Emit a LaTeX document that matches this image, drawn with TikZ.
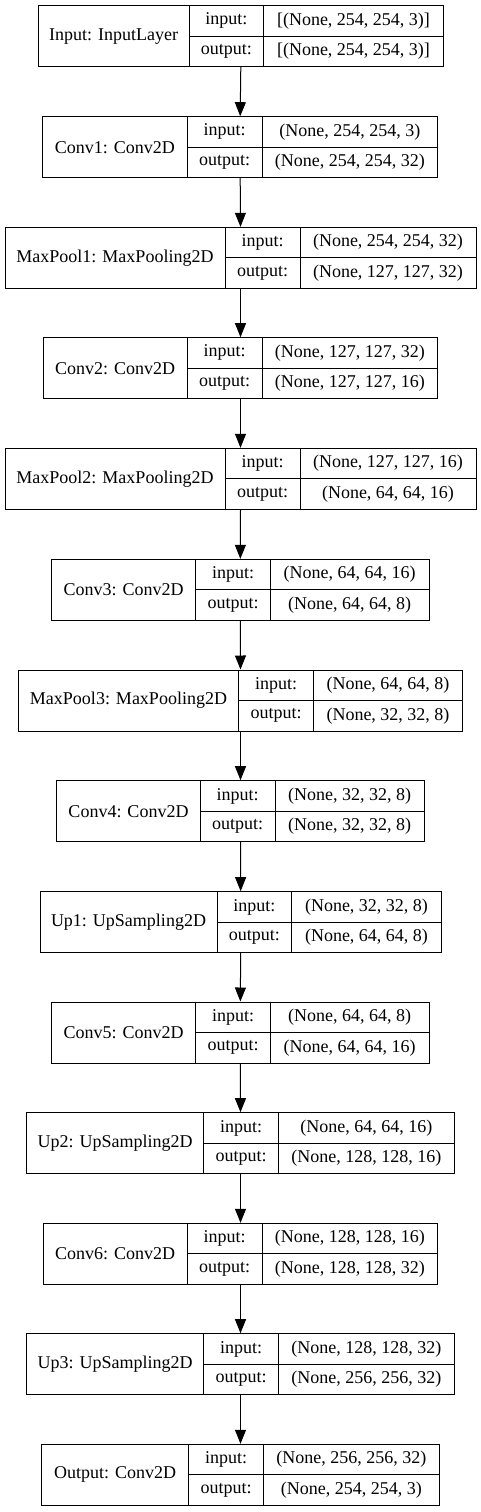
\documentclass[tikz,border=0pt]{standalone}
\usepackage{fontspec}
\setmainfont{Liberation Serif}
\usetikzlibrary{arrows.meta,positioning}

\begin{document}
\begin{tikzpicture}[x=1pt, y=-1pt, >={Triangle[length=14pt,width=11pt]}, line width=1pt,
  box/.style={draw, minimum height=61pt, inner sep=0pt},
  namecell/.style={draw, minimum height=61pt, inner sep=0pt, font=\fontsize{18}{20}\selectfont},
  cell/.style={draw, minimum height=30.5pt, inner sep=0pt, font=\fontsize{18}{20}\selectfont}]
\useasboundingbox (0,0) rectangle (481,1512);
\foreach \n/\lab/\xa/\xb/\xc/\xd/\yt/\ishape/\oshape in {
  0/{Input: InputLayer}/38.3/189/263.7/443.3/5.7/{[(None, 254, 254, 3)]}/{[(None, 254, 254, 3)]},
  1/{Conv1: Conv2D}/42.7/187/262/437.7/116.7/{(None, 254, 254, 3)}/{(None, 254, 254, 32)},
  2/{MaxPool1: MaxPooling2D}/5/225/300/476/227.3/{(None, 254, 254, 32)}/{(None, 127, 127, 32)},
  3/{Conv2: Conv2D}/43.3/187/262/437.7/337.7/{(None, 127, 127, 32)}/{(None, 127, 127, 16)},
  4/{MaxPool2: MaxPooling2D}/5/225/300/476/448.3/{(None, 127, 127, 16)}/{(None, 64, 64, 16)},
  5/{Conv3: Conv2D}/51.7/195.7/270.3/429/559.3/{(None, 64, 64, 16)}/{(None, 64, 64, 8)},
  6/{MaxPool3: MaxPooling2D}/18.3/238.7/313.3/462.7/670/{(None, 64, 64, 8)}/{(None, 32, 32, 8)},
  7/{Conv4: Conv2D}/56.7/200.3/275/424.3/780.7/{(None, 32, 32, 8)}/{(None, 32, 32, 8)},
  8/{Up1: UpSampling2D}/40/217/291.7/441.3/891.7/{(None, 32, 32, 8)}/{(None, 64, 64, 8)},
  9/{Conv5: Conv2D}/51.7/195.7/270.3/429/1002/{(None, 64, 64, 8)}/{(None, 64, 64, 16)},
  10/{Up2: UpSampling2D}/26.7/203.7/278.3/454.3/1112.7/{(None, 64, 64, 16)}/{(None, 128, 128, 16)},
  11/{Conv6: Conv2D}/43.3/187/262/437.7/1223.3/{(None, 128, 128, 16)}/{(None, 128, 128, 32)},
  12/{Up3: UpSampling2D}/26.7/203.7/278.3/454.3/1333.7/{(None, 128, 128, 32)}/{(None, 256, 256, 32)},
  13/{Output: Conv2D}/41.7/188.7/263.3/439.3/1444.3/{(None, 256, 256, 32)}/{(None, 254, 254, 3)}} {
  \node[box, minimum width={\xd-\xa}] (L\n) at ({(\xa+\xd)/2},{\yt+30.5}) {};
  \node[namecell, minimum width={\xb-\xa}] (N\n) at ({(\xa+\xb)/2},{\yt+30.5}) {\lab};
  \node[cell, minimum width={\xc-\xb}] (IK\n) at ({(\xb+\xc)/2},{\yt+15.25}) {input:};
  \node[cell, minimum width={\xc-\xb}] (OK\n) at ({(\xb+\xc)/2},{\yt+45.75}) {output:};
  \node[cell, minimum width={\xd-\xc}] (IV\n) at ({(\xc+\xd)/2},{\yt+15.25}) {\ishape};
  \node[cell, minimum width={\xd-\xc}] (OV\n) at ({(\xc+\xd)/2},{\yt+45.75}) {\oshape};
}
\foreach \a [count=\b from 1] in {0,...,12}
  \draw[->] (L\a.south) -- (L\b.north);
\end{tikzpicture}
\end{document}
